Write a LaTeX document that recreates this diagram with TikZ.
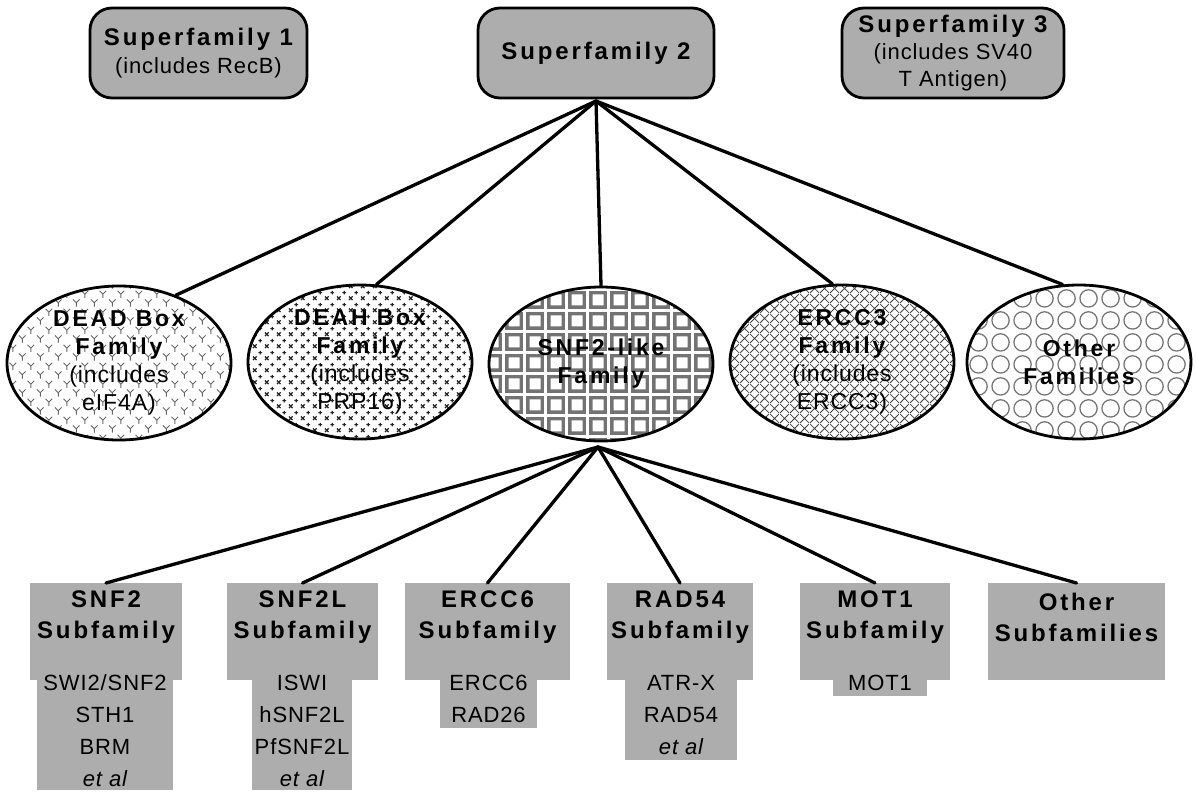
\documentclass[tikz,border=0pt]{standalone}
\usepackage{fontspec}
\setmainfont{Liberation Sans}
\newfontfamily\ttlfont[LetterSpace=12]{Liberation Sans}
\newfontfamily\ordfont[LetterSpace=4]{Liberation Sans}
\usetikzlibrary{patterns,shapes.geometric}

% fill patterns for the family ellipses
\pgfdeclarepatternformonly{yshapes}{\pgfpointorigin}{\pgfpoint{18pt}{18pt}}{\pgfpoint{18pt}{18pt}}{%
  \pgfsetlinewidth{1pt}%
  \foreach \cx/\cy in {4.5/4.5,13.5/13.5}{%
    \pgfpathmoveto{\pgfpoint{\cx pt}{\cy pt}}\pgfpathlineto{\pgfpoint{\cx pt-3.5pt}{\cy pt+3.5pt}}%
    \pgfpathmoveto{\pgfpoint{\cx pt}{\cy pt}}\pgfpathlineto{\pgfpoint{\cx pt+3.5pt}{\cy pt+3.5pt}}%
    \pgfpathmoveto{\pgfpoint{\cx pt}{\cy pt}}\pgfpathlineto{\pgfpoint{\cx pt}{\cy pt-4pt}}%
  }%
  \pgfusepath{stroke}}
\pgfdeclarepatternformonly{crossmarks}{\pgfpointorigin}{\pgfpoint{12pt}{12pt}}{\pgfpoint{12pt}{12pt}}{%
  \pgfsetlinewidth{1.3pt}%
  \pgfpathmoveto{\pgfpoint{1pt}{1pt}}\pgfpathlineto{\pgfpoint{5pt}{5pt}}%
  \pgfpathmoveto{\pgfpoint{1pt}{5pt}}\pgfpathlineto{\pgfpoint{5pt}{1pt}}%
  \pgfpathmoveto{\pgfpoint{7pt}{9pt}}\pgfpathlineto{\pgfpoint{11pt}{9pt}}%
  \pgfpathmoveto{\pgfpoint{9pt}{7pt}}\pgfpathlineto{\pgfpoint{9pt}{11pt}}%
  \pgfusepath{stroke}}
\pgfdeclarepatternformonly{squaregrid}{\pgfpointorigin}{\pgfpoint{21pt}{21pt}}{\pgfpoint{21pt}{21pt}}{%
  \pgfsetlinewidth{3.5pt}%
  \pgfpathrectanglecorners{\pgfpoint{3pt}{3pt}}{\pgfpoint{18pt}{18pt}}%
  \pgfusepath{stroke}}
\pgfdeclarepatternformonly{diamondhatch}{\pgfpointorigin}{\pgfpoint{10pt}{10pt}}{\pgfpoint{10pt}{10pt}}{%
  \pgfsetlinewidth{0.8pt}%
  \pgfpathmoveto{\pgfpoint{0pt}{0pt}}\pgfpathlineto{\pgfpoint{10pt}{10pt}}%
  \pgfpathmoveto{\pgfpoint{0pt}{10pt}}\pgfpathlineto{\pgfpoint{10pt}{0pt}}%
  \pgfusepath{stroke}}
\pgfdeclarepatternformonly{ringgrid}{\pgfpointorigin}{\pgfpoint{22pt}{22pt}}{\pgfpoint{22pt}{22pt}}{%
  \pgfsetlinewidth{1.3pt}%
  \pgfpathcircle{\pgfpoint{11pt}{11pt}}{9pt}%
  \pgfusepath{stroke}}

\newcommand{\ttl}[1]{{\ttlfont\bfseries #1}}
\newcommand{\ord}[1]{{\ordfont #1}}

\tikzset{
  superbox/.style={draw, line width=2.8pt, rounded corners=22pt, fill=black!32,
    align=center, inner sep=0pt, minimum height=90pt},
  famellipse/.style={ellipse, draw, line width=2.8pt, inner sep=0pt,
    minimum width=224pt, minimum height=154pt, align=center},
  subtop/.style={fill=black!32, inner sep=0pt, anchor=north, minimum height=97pt},
  subbot/.style={fill=black!32, inner sep=0pt, anchor=north},
  titletext/.style={align=center, inner sep=0pt, font=\fontsize{24}{31}\selectfont},
  itemtext/.style={align=center, inner sep=0pt, font=\fontsize{22}{32}\selectfont},
  famtext/.style={font=\fontsize{23}{28}\selectfont},
  conn/.style={line width=3.3pt, line cap=round},
}

\begin{document}
\begin{tikzpicture}[x=1pt,y=-1pt]
\useasboundingbox (0,0) rectangle (1196,793);

% superfamilies
\node[superbox, minimum width=217pt, font=\fontsize{24}{28}\selectfont] (sf1) at (198.5,53)
  {\ttl{Superfamily 1}\\\ord{\fontsize{22}{28}\selectfont(includes RecB)}};
\node[superbox, minimum width=236pt, font=\fontsize{24}{28}\selectfont] (sf2) at (596,53)
  {\ttl{Superfamily 2}};
\node[superbox, minimum width=222pt, font=\fontsize{24}{27}\selectfont] (sf3) at (953,53)
  {\ttl{Superfamily 3}\\\ord{\fontsize{22}{27}\selectfont(includes SV40}\\\ord{\fontsize{22}{27}\selectfont T Antigen)}};

% families
\node[famellipse, famtext, pattern=yshapes, pattern color=black!60] (dead) at (119,363)
  {\ttl{DEAD Box}\\\ttl{Family}\\\ord{(includes}\\\ord{eIF4A)}};
\node[famellipse, famtext, pattern=crossmarks, pattern color=black!85] (deah) at (360,362)
  {\ttl{DEAH Box}\\\ttl{Family}\\\ord{(includes}\\\ord{PRP16)}};
\node[famellipse, famtext, pattern=squaregrid, pattern color=black!55] (snfl) at (601,364)
  {\ttl{SNF2-like}\\\ttl{Family}};
\node[famellipse, famtext, pattern=diamondhatch, pattern color=black!75] (ercc3) at (842,362)
  {\ttl{ERCC3}\\\ttl{Family}\\\ord{(includes}\\\ord{ERCC3)}};
\node[famellipse, famtext, pattern=ringgrid, pattern color=black!55] (other) at (1079,362)
  {\ttl{Other}\\\ttl{Families}};

% subfamily boxes: heading block and member list block
\node[subbot, minimum width=136pt, minimum height=111pt] (snf2m) at (105,679) {};
\node[subtop, minimum width=152pt] (snf2) at (106,583) {};
\node[subbot, minimum width=100pt, minimum height=111pt] (snf2lm) at (302,679) {};
\node[subtop, minimum width=151pt] (snf2l) at (302.5,583) {};
\node[subbot, minimum width=97pt, minimum height=49pt] (ercc6m) at (488.5,679) {};
\node[subtop, minimum width=165pt] (ercc6) at (487.5,583) {};
\node[subbot, minimum width=112pt, minimum height=81pt] (rad54m) at (681,679) {};
\node[subtop, minimum width=146pt] (rad54) at (680,583) {};
\node[subbot, minimum width=94pt, minimum height=17pt] (mot1m) at (880,679) {};
\node[subtop, minimum width=150pt] (mot1) at (875,583) {};
\node[subtop, minimum width=177pt] (others) at (1076.5,583) {};

\node[titletext] (snf2t) at (106,617) {\ttl{SNF2}\\\ttl{Subfamily}};
\node[titletext] (snf2lt) at (302.5,617) {\ttl{SNF2L}\\\ttl{Subfamily}};
\node[titletext] (ercc6t) at (487.5,617) {\ttl{ERCC6}\\\ttl{Subfamily}};
\node[titletext] (rad54t) at (680,617) {\ttl{RAD54}\\\ttl{Subfamily}};
\node[titletext] (mot1t) at (875,617) {\ttl{MOT1}\\\ttl{Subfamily}};
\node[titletext] (otherst) at (1076.5,617) {\ttl{Other}\\\ttl{Subfamilies}};

\node[itemtext] (snf2i) at (105,731) {\ord{SWI2/SNF2}\\\ord{STH1}\\\ord{BRM}\\\ord{\itshape et al}};
\node[itemtext] (snf2li) at (302,731) {\ord{ISWI}\\\ord{hSNF2L}\\\ord{PfSNF2L}\\\ord{\itshape et al}};
\node[itemtext] (ercc6i) at (488.5,699) {\ord{ERCC6}\\\ord{RAD26}};
\node[itemtext] (rad54i) at (681,715) {\ord{ATR-X}\\\ord{RAD54}\\\ord{\itshape et al}};
\node[itemtext] (mot1i) at (880,683) {\ord{MOT1}};

% connectors
\coordinate (hubA) at (596,101);
\coordinate (hubB) at (598,447);
\draw[conn] (hubA) -- (dead.50);
\draw[conn] (hubA) -- (deah.78);
\draw[conn] (hubA) -- (snfl.north);
\draw[conn] (hubA) -- (ercc3.97);
\draw[conn] (hubA) -- (other.102);
\draw[conn] (hubB) -- (snf2.north);
\draw[conn] (hubB) -- (snf2l.north);
\draw[conn] (hubB) -- (ercc6.north);
\draw[conn] (hubB) -- (rad54.north);
\draw[conn] (hubB) -- (mot1.north);
\draw[conn] (hubB) -- (others.north);
\end{tikzpicture}
\end{document}
